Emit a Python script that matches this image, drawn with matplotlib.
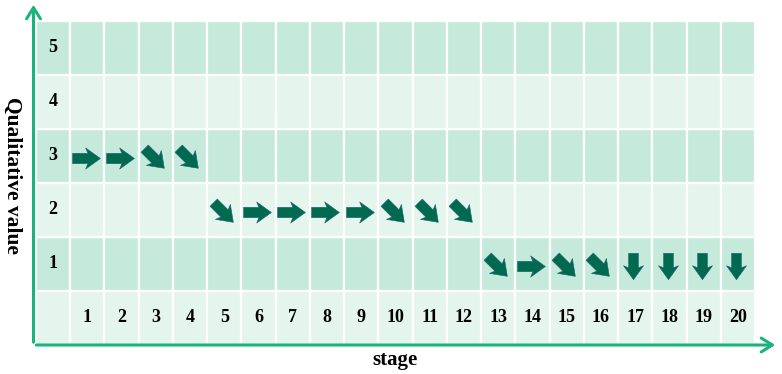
import matplotlib
matplotlib.use("Agg")
import matplotlib.pyplot as plt
from matplotlib.patches import Rectangle, FancyArrowPatch
from matplotlib.path import Path
from matplotlib.markers import MarkerStyle
from matplotlib.transforms import Affine2D

stages = list(range(1, 21))
levels = [1, 2, 3, 4, 5]
values = [3, 3, 3, 3, 2, 2, 2, 2, 2, 2, 2, 2, 1, 1, 1, 1, 1, 1, 1, 1]
trend = ['right', 'right', 'down-right', 'down-right',
         'down-right', 'right', 'right', 'right', 'right', 'down-right', 'down-right', 'down-right',
         'down-right', 'right', 'down-right', 'down-right', 'down', 'down', 'down', 'down']

dark_row = '#c5eadb'
light_row = '#e3f5ed'
arrow_col = '#006a50'
axis_col = '#1ab37c'
font = 'Liberation Serif'

# block arrow pointing right
arrow_verts = [(-1, 0.37), (0.1, 0.37), (-0.06, 0.76), (1, 0), (-0.06, -0.76),
               (0.1, -0.37), (-1, -0.37), (-1, 0.37)]
arrow_path = Path(arrow_verts, [Path.MOVETO] + [Path.LINETO] * 6 + [Path.CLOSEPOLY])
angle = {'right': 0, 'down-right': -45, 'down': -90}
msize = {'right': 20, 'down-right': 20, 'down': 19}

fig = plt.figure(figsize=(7.82, 3.74), dpi=100)
ax = fig.add_axes([36 / 782, 29 / 374, 719 / 782, 324 / 374])
ncol = len(stages) + 1
nrow = len(levels) + 1
ax.set_xlim(0, ncol)
ax.set_ylim(0, nrow)
ax.axis('off')

for r in range(nrow):
    color = dark_row if r % 2 == 1 else light_row
    for c in range(ncol):
        ax.add_patch(Rectangle((c, r), 1, 1, facecolor=color, edgecolor='white', lw=1.6))

for lv in levels:
    ax.text(0.5, lv + 0.5, str(lv), ha='center', va='center', fontsize=13,
            fontweight='bold', family=font)
for s in stages:
    ax.text(s + 0.5, 0.5, str(s), ha='center', va='center', fontsize=13,
            fontweight='bold', family=font)

for s, v, t in zip(stages, values, trend):
    m = MarkerStyle(arrow_path, transform=Affine2D().rotate_deg(angle[t]))
    ax.plot(s + 0.45, v + 0.47, marker=m, markersize=msize[t], color=arrow_col,
            markeredgecolor='#1d5f6e', markeredgewidth=0.4, clip_on=False)

# axis arrows
x0, y0 = 33.5 / 782, 1 - 345 / 374
for end in [(x0, 1 - 2 / 374), (778 / 782, y0)]:
    fig.add_artist(FancyArrowPatch((x0, y0), end, transform=fig.transFigure,
                   arrowstyle='->,head_length=4,head_width=2.5', color=axis_col,
                   lw=2.2, mutation_scale=2))

fig.text(12 / 782, 1 - 175 / 374, 'Qualitative value', rotation=-90, ha='center', va='center',
         fontsize=15.5, fontweight='bold', family=font)
fig.text(395 / 782, 1 - 360 / 374, 'stage', ha='center', va='center',
         fontsize=15, fontweight='bold', family=font)

fig.savefig('out.png', dpi=100)
